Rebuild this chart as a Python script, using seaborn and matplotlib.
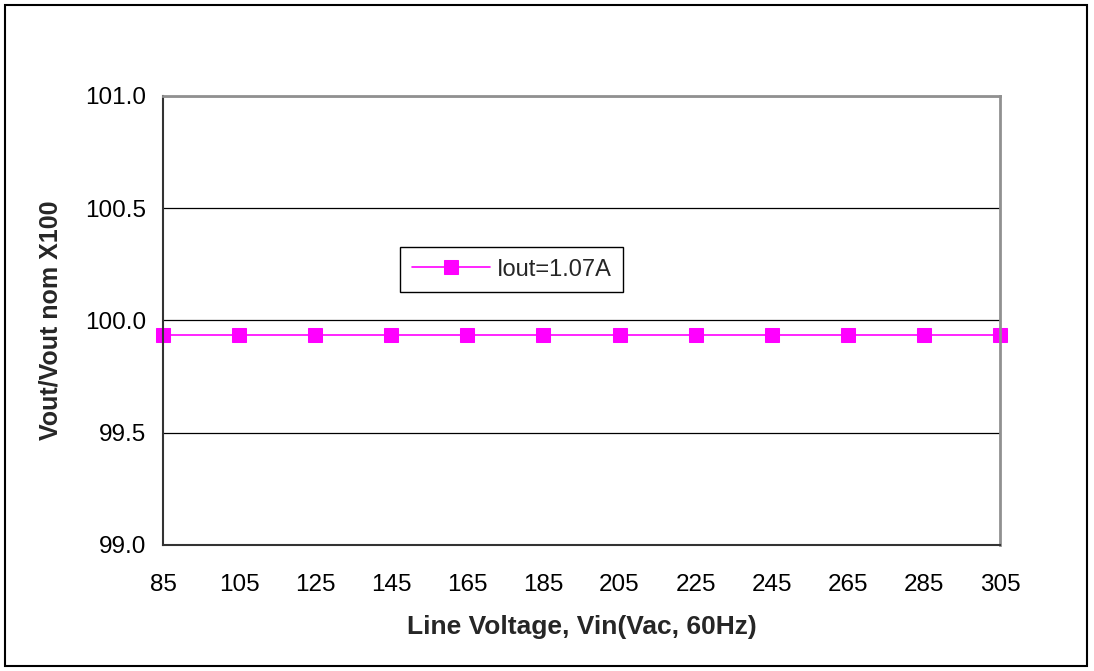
import pandas as pd
import matplotlib.pyplot as plt
import seaborn as sns
from matplotlib.patches import Rectangle

# data
line_voltage = [85, 105, 125, 145, 165, 185, 205, 225, 245, 265, 285, 305]
vout_ratio = [99.935] * 12
series_name = "Iout=1.07A"
y_ticks = [99.0, 99.5, 100.0, 100.5, 101.0]

df = pd.DataFrame({"Vin": line_voltage, "Vout": vout_ratio, "Series": series_name})

sns.set_style("white")
plt.rcParams["font.family"] = ["Liberation Sans", "DejaVu Sans"]

fig = plt.figure(figsize=(10.94, 6.71), dpi=100)
ax = fig.add_axes([0.149, 0.188, 0.765, 0.669])

sns.lineplot(data=df, x="Vin", y="Vout", hue="Series", palette=["#FF00FF"],
             marker="s", markersize=9.5, markeredgecolor="#FF00FF",
             linewidth=1.2, ax=ax, clip_on=False)

ax.set_xlim(85, 305)
ax.set_ylim(99.0, 101.0)
ax.set_xticks(line_voltage)
ax.set_yticks(y_ticks)
ax.set_yticklabels([f"{v:.1f}" for v in y_ticks])
ax.yaxis.grid(True, color="black", linewidth=0.9)
ax.set_axisbelow(True)

ax.tick_params(axis="both", direction="out", length=7, width=1, colors="#333333",
               labelsize=17.5, labelcolor="black", pad=14)
ax.tick_params(axis="y", length=6, pad=6)

for side in ["left", "bottom"]:
    ax.spines[side].set_color("#333333")
    ax.spines[side].set_linewidth(1.5)
for side in ["top", "right"]:
    ax.spines[side].set_color("#909090")
    ax.spines[side].set_linewidth(2)

ax.set_xlabel("Line Voltage, Vin(Vac, 60Hz)", fontsize=19, fontweight="bold", labelpad=14)
ax.set_ylabel("Vout/Vout nom X100", fontsize=18, fontweight="bold", labelpad=16)

leg = ax.legend(loc="upper left", bbox_to_anchor=(0.283, 0.664), borderaxespad=0,
                fontsize=17, fancybox=False, framealpha=1, handlelength=3.3,
                borderpad=0.5, handletextpad=0.3)
leg.get_frame().set_edgecolor("black")
leg.get_frame().set_linewidth(1)

# outer chart border
fig.patches.append(Rectangle((0.005, 0.008), 0.989, 0.985, transform=fig.transFigure,
                             fill=False, edgecolor="black", linewidth=1.5))

plt.savefig("out.png", dpi=100)
